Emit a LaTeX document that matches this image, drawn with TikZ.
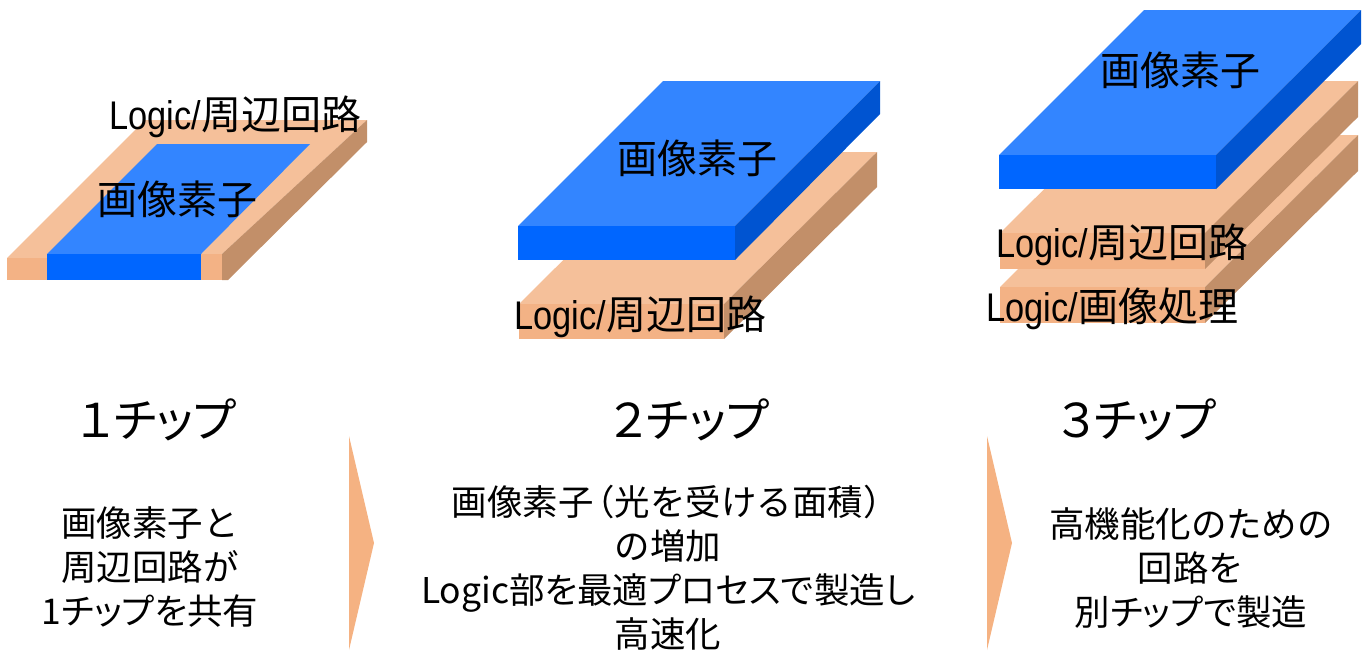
\documentclass[tikz,border=0pt]{standalone}
\usepackage{fontspec}
\setmainfont[FakeStretch=0.86]{Liberation Sans}
\newfontfamily\jp{Noto Sans CJK JP}
\newfontfamily\jpp[RawFeature=+palt]{Noto Sans CJK JP}
\definecolor{peachtop}{RGB}{245,192,154}
\definecolor{peachfront}{RGB}{243,178,133}
\definecolor{peachside}{RGB}{194,143,105}
\definecolor{bluetop}{RGB}{51,133,255}
\definecolor{bluefront}{RGB}{0,102,255}
\definecolor{blueside}{RGB}{0,84,209}
\definecolor{arrowfill}{RGB}{245,178,130}
\tikzset{
  x=0.75pt,y=-0.75pt,
  lbl/.style={inner sep=0pt,text=black,font=\fontsize{30}{30}\selectfont},
  head/.style={inner sep=0pt,text=black,font=\jpp\fontsize{35}{35}\selectfont},
  body/.style={inner sep=0pt,text=black,align=center,font=\jp\fontsize{26.6}{33}\selectfont}
}
\newcommand{\Jp}[1]{{\jp #1}}
\newcommand{\Pp}[1]{{\jpp #1}}
% slab: front-left x, front-right x, top y, bottom y, back y, depth x, side bottom y; colours
\newcommand{\slab}[9]{%
  \fill[#9top] (#1,#3) -- (#1+#6,#5) -- (#2+#6,#5) -- (#2,#3) -- cycle;
  \fill[#9side] (#2,#3) -- (#2+#6,#5) -- (#2+#6,#7) -- (#2,#4) -- cycle;
  \fill[#9front] (#1,#3) rectangle (#2,#4);
}
\begin{document}
\begin{tikzpicture}
\useasboundingbox (0,0) rectangle (1366,650);
% chip 1
\fill[peachtop] (7,258) -- (145,120) -- (367,120) -- (222,254) -- (201,254) -- (47,258) -- cycle;
\fill[peachside] (222,254) -- (367,120) -- (367,142) -- (228,280) -- (222,280) -- cycle;
\fill[peachfront] (7,258) rectangle (47,280);
\fill[peachfront] (201,254) rectangle (222,280);
\fill[bluetop] (47,254) -- (157,144) -- (310,144) -- (201,254) -- cycle;
\fill[bluefront] (47,254) rectangle (201,280);
\node[lbl,anchor=base west] (c1logic) at (109,129) {Logic/\Jp{周辺回路}};
\node[lbl,anchor=base west] (c1pix) at (97,214) {\Jp{画像素子}};
% chip 2
\slab{519}{724}{304}{339}{152}{153}{187}{}{peach}
\slab{518}{735}{226}{260}{81}{145}{114}{}{blue}
\node[lbl,anchor=base west] (c2pix) at (617,173) {\Jp{画像素子}};
\node[lbl,anchor=base west] (c2logic) at (514,329) {Logic/\Jp{周辺回路}};
% chip 3
\slab{1000}{1205}{287}{323}{135}{153}{171}{}{peach}
\slab{1000}{1205}{233}{269}{81}{153}{117}{}{peach}
\slab{999}{1216}{155}{189}{10}{145}{44}{}{blue}
\node[lbl,anchor=base west] (c3pix) at (1100,85) {\Jp{画像素子}};
\node[lbl,anchor=base west] (c3logic) at (996,257) {Logic/\Jp{周辺回路}};
\node[lbl,anchor=base west] (c3proc) at (986,321) {Logic/\Jp{画像処理}};
% arrows
\fill[arrowfill] (349,436) -- (374,543) -- (349,650) -- cycle;
\fill[arrowfill] (987,436) -- (1012,543) -- (987,650) -- cycle;
% heads
\node[head] (h1) at (157,420) {１チップ};
\node[head] (h2) at (690,420) {２チップ};
\node[head] (h3) at (1137,420) {３チップ};
% bodies
\node[body] (b1) at (150,567) {画像素子と\\周辺回路が\\\Pp{1チップを共有}};
\node[body] (b2) at (668,568) {画像素子\kern-.4em（光を受ける面積）\kern-.4em\\の増加\\\Pp{Logic部を最適プロセスで製造し}\\高速化};
\node[body] (b3) at (1191,568) {高機能化のための\\回路を\\\Pp{別チップで製造}};
\end{tikzpicture}
\end{document}
